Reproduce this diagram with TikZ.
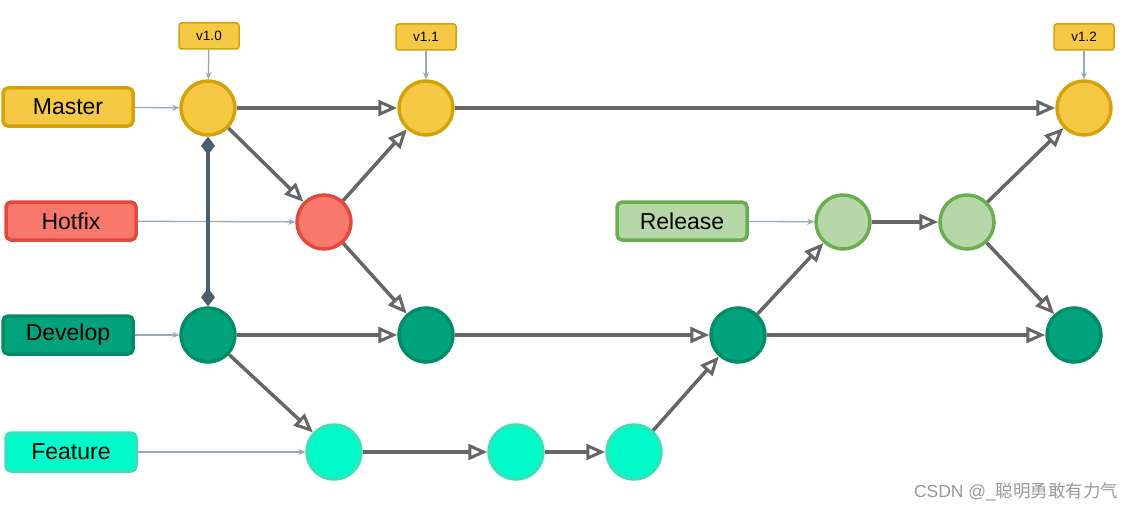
\documentclass[tikz,border=0pt]{standalone}
\usepackage{fontspec}
\setmainfont{Liberation Sans}
\newfontfamily\cjk{Noto Sans CJK SC}
\usetikzlibrary{arrows.meta}
\definecolor{mfill}{HTML}{F6C945}
\definecolor{mdraw}{HTML}{D4A20A}
\definecolor{hfill}{HTML}{F8786C}
\definecolor{hdraw}{HTML}{E2483C}
\definecolor{dfill}{HTML}{00A37C}
\definecolor{ddraw}{HTML}{008C69}
\definecolor{ffill}{HTML}{00FACA}
\definecolor{fdraw}{HTML}{30E3B8}
\definecolor{rfill}{HTML}{B6D7A8}
\definecolor{rdraw}{HTML}{6AAE4F}
\definecolor{edgec}{HTML}{666666}
\definecolor{thinc}{HTML}{94AAB7}
\definecolor{diac}{HTML}{4A5D6B}
\tikzset{
  commit/.style={circle, minimum size=54pt, inner sep=0pt, line width=3.5pt},
  lbl/.style={rounded corners=5pt, minimum width=130pt, minimum height=38pt, line width=3.5pt, font=\fontsize{23}{25}\selectfont, inner sep=0pt},
  tagbox/.style={rounded corners=2.5pt, fill=mfill, draw=mdraw, line width=1.5pt, minimum width=60pt, minimum height=26pt, font=\fontsize{13.5}{15}\selectfont, inner sep=0pt},
  flow/.style={draw=edgec, line width=3.5pt, -{Triangle[open, length=19pt, width=16pt, line width=3pt]}},
  thin/.style={draw=thinc, line width=1.3pt, -{Stealth[length=7pt, width=6pt]}},
  mcol/.style={fill=mfill, draw=mdraw},
  hcol/.style={fill=hfill, draw=hdraw},
  dcol/.style={fill=dfill, draw=ddraw},
  fcol/.style={fill=ffill, draw=fdraw},
  rcol/.style={fill=rfill, draw=rdraw},
}
\begin{document}
\begin{tikzpicture}[x=1pt, y=-1pt]
\useasboundingbox (0,0) rectangle (1136,511);
% labels
\node[lbl, mcol] (Lm) at (68,107) {Master};
\node[lbl, hcol] (Lh) at (71,221) {Hotfix};
\node[lbl, dcol] (Ld) at (68,335) {Develop};
\node[lbl, fcol] (Lf) at (71,452) {Feature};
\node[lbl, rcol] (Lr) at (682,221) {Release};
% tags
\node[tagbox] (T1) at (209,36) {v1.0};
\node[tagbox] (T2) at (426,37) {v1.1};
\node[tagbox] (T3) at (1084,37) {v1.2};
% commits
\node[commit, mcol] (M1) at (208,108) {};
\node[commit, mcol] (M2) at (426,108) {};
\node[commit, mcol] (M3) at (1084,108) {};
\node[commit, hcol] (H) at (324,222) {};
\node[commit, rcol] (R1) at (843,222) {};
\node[commit, rcol] (R2) at (967,222) {};
\node[commit, dcol] (D1) at (208,335) {};
\node[commit, dcol] (D2) at (426,335) {};
\node[commit, dcol] (D3) at (738,335) {};
\node[commit, dcol] (D4) at (1074,335) {};
\node[commit, fcol] (F1) at (334,452) {};
\node[commit, fcol] (F2) at (516,452) {};
\node[commit, fcol] (F3) at (634,452) {};
% thin arrows
\draw[thin] (Lm) -- (M1);
\draw[thin] (Lh) -- (H);
\draw[thin] (Ld) -- (D1);
\draw[thin] (Lf) -- (F1);
\draw[thin] (Lr) -- (R1);
\draw[thin] (T1) -- (M1);
\draw[thin] (T2) -- (M2);
\draw[thin] (T3) -- (M3);
% diamond connector
\draw[diac, line width=3.5pt, {Diamond[length=18pt, width=14pt]}-{Diamond[length=18pt, width=14pt]}] (M1) -- (D1);
% flow edges
\draw[flow] (M1) -- (M2);
\draw[flow] (M2) -- (M3);
\draw[flow] (M1) -- (H);
\draw[flow] (H) -- (M2);
\draw[flow] (H) -- (D2);
\draw[flow] (D1) -- (D2);
\draw[flow] (D2) -- (D3);
\draw[flow] (D1) -- (F1);
\draw[flow] (F1) -- (F2);
\draw[flow] (F2) -- (F3);
\draw[flow] (F3) -- (D3);
\draw[flow] (D3) -- (R1);
\draw[flow] (R1) -- (R2);
\draw[flow] (R2) -- (M3);
\draw[flow] (R2) -- (D4);
\draw[flow] (D3) -- (D4);
% watermark
\node[anchor=east, text=black!40, font=\fontsize{17.5}{19}\selectfont] (wm) at (1122,492) {CSDN @\_{\cjk 聪明勇敢有力气}};
\end{tikzpicture}
\end{document}
